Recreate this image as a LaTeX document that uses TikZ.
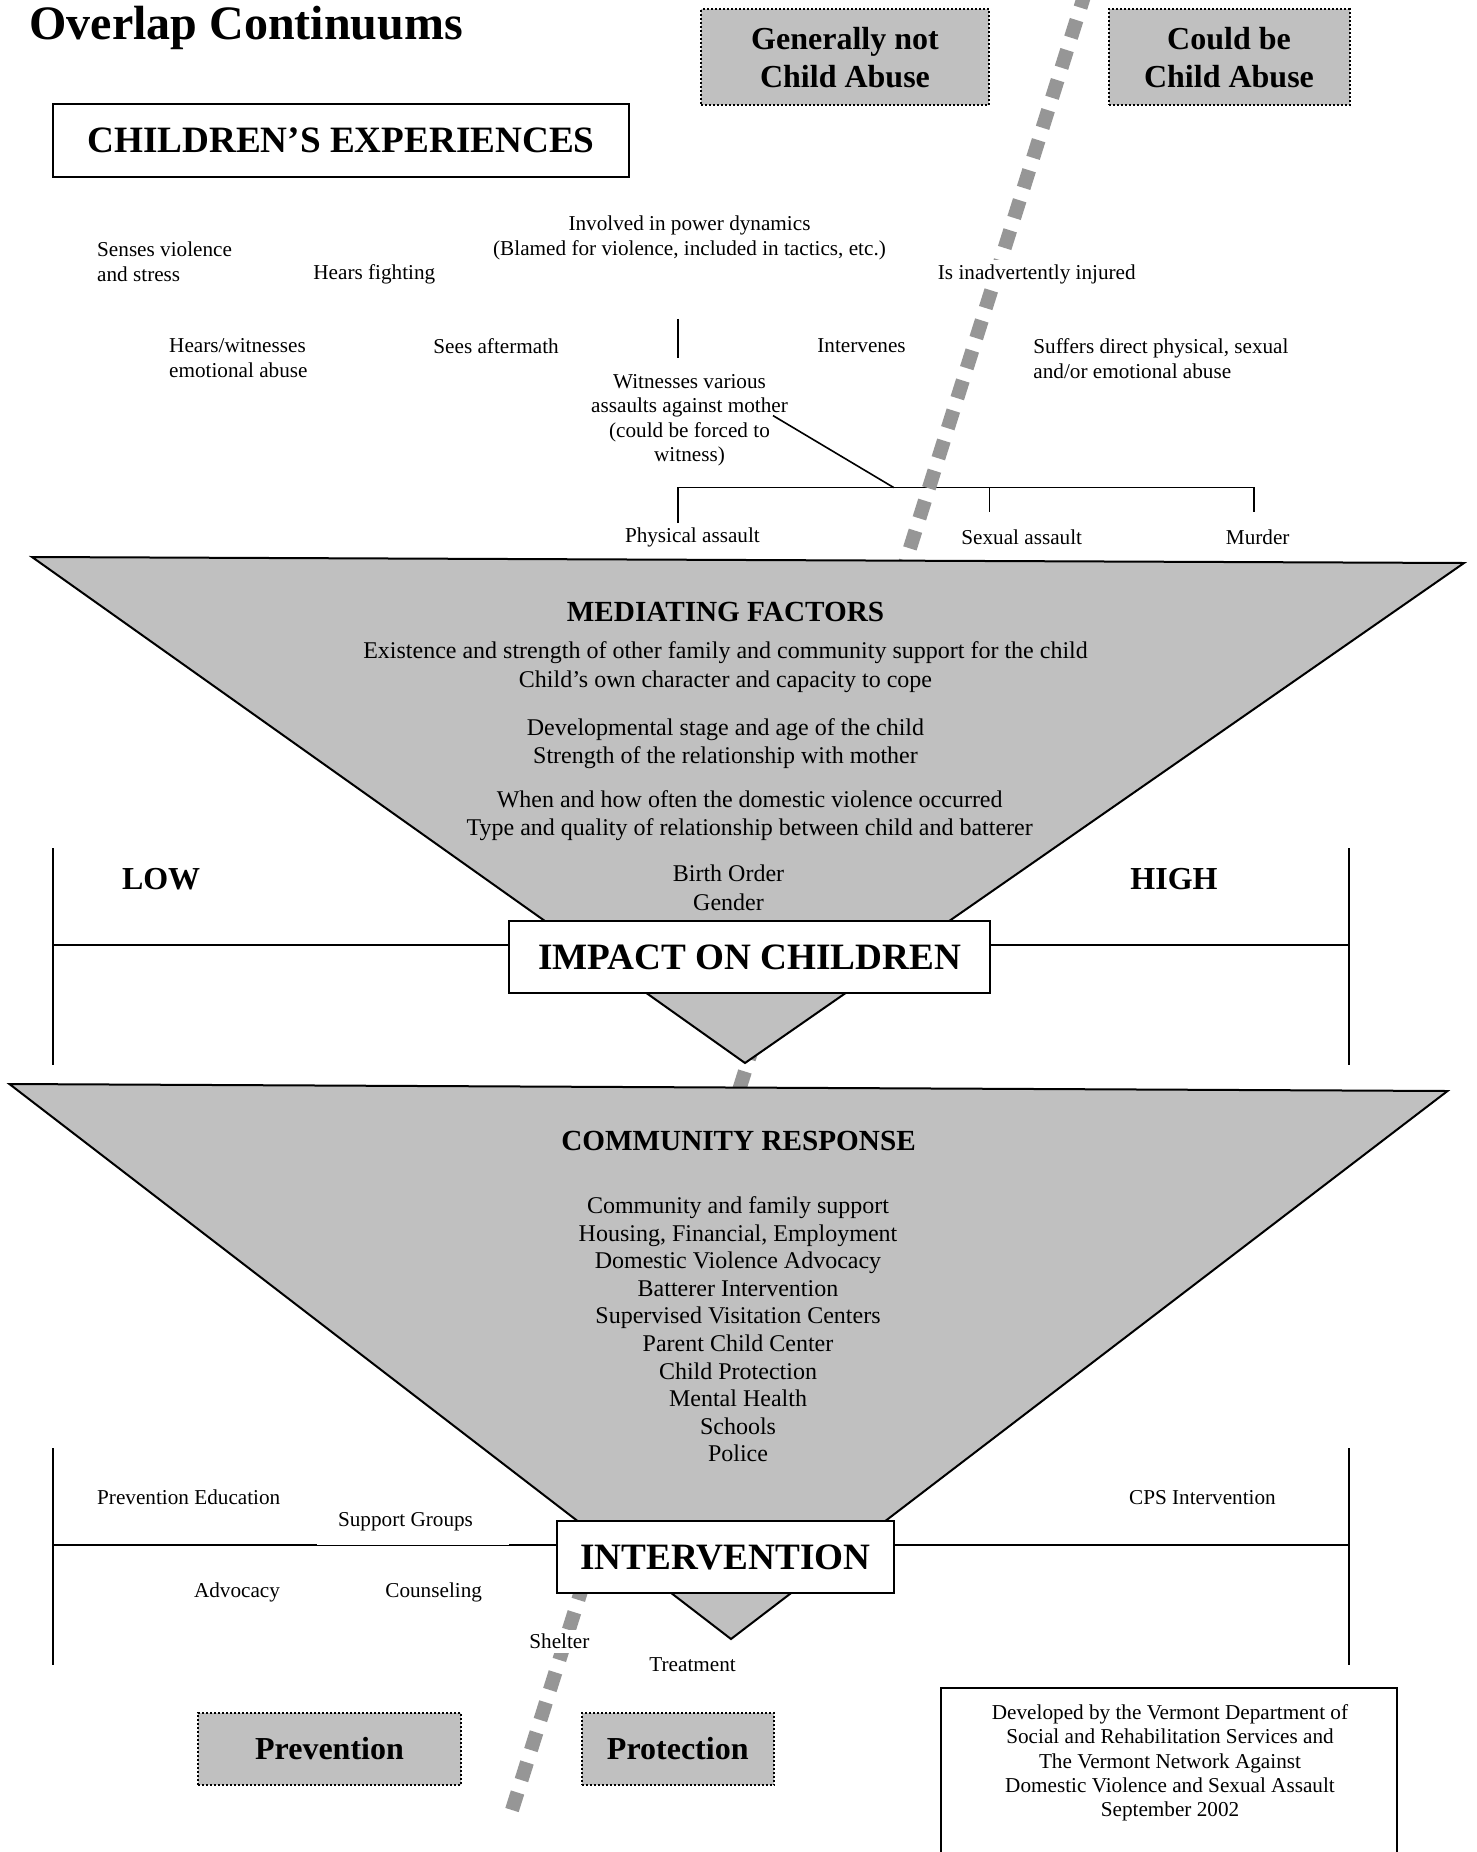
\documentclass[tikz,border=0pt]{standalone}
\usepackage{fontspec}
\setmainfont{Liberation Serif}
\definecolor{trigray}{RGB}{192,192,192}
\definecolor{dashgray}{RGB}{150,150,150}
\begin{document}
\begin{tikzpicture}[x=0.5pt,y=-0.5pt,
  txt/.style={inner sep=0pt, yshift=-1.2pt, font=\fontsize{10.6}{12.4}\selectfont, align=left},
  ctxt/.style={inner sep=0pt, yshift=-1.2pt, font=\fontsize{10.6}{12.3}\selectfont, align=center},
  mtxt/.style={inner sep=0pt, yshift=-1.2pt, font=\fontsize{12}{14.2}\selectfont, align=center},
  head/.style={inner sep=0pt, font=\bfseries\fontsize{14.6}{17}\selectfont},
  bigbox/.style={draw, line width=1pt, fill=white, font=\bfseries\fontsize{18.6}{22}\selectfont, minimum height=36pt},
  graybox/.style={draw, line width=1pt, dash pattern=on 1pt off 1pt, fill=trigray, font=\bfseries\fontsize{16}{19}\selectfont, align=center},
  scalebig/.style={font=\bfseries\fontsize{16}{19}\selectfont, inner sep=0pt},
  tri/.style={fill=trigray, draw, line width=1pt, line join=miter},
  ln/.style={line width=1pt},
  thinln/.style={line width=0.8pt},
  divider/.style={draw=dashgray, line width=7pt, dash pattern=on 9.25pt off 6.5pt},
  whitelbl/.style={fill=white, inner sep=2pt}
]
\useasboundingbox (0,0) rectangle (1477,1852);

% ---- experience connectors
\coordinate (vtop) at (677.7,318.8);
\coordinate (vbot) at (677.7,357.7);
\draw[thinln] (vtop) -- (vbot);
\coordinate (diagstart) at (773,415.6);
\coordinate (bJ) at (893.8,487.6);
\coordinate (bL) at (677.7,487.6);
\coordinate (bM) at (989.4,487.6);
\coordinate (bR) at (1253.9,487.6);
\coordinate (tL) at (677.7,523);
\coordinate (tM) at (989.4,512);
\coordinate (tR) at (1253.9,512);
\draw[thinln] (diagstart) -- (bJ);
\draw[thinln] (tL) -- (bL) -- (bR) -- (tR);
\draw[thinln] (bM) -- (tM);

% ---- dividing dashed line
\begin{scope}
\clip (0,0) rectangle (1477,1852);
\coordinate (dtop) at (1086,-10);
\coordinate (dbot) at (512,1810);
\draw[divider] (dtop) -- (dbot);
\end{scope}

% ---- triangles
\coordinate (t1a) at (32,557);
\coordinate (t1b) at (1464,563);
\coordinate (t1c) at (745,1063);
\draw[tri] (t1a) -- (t1b) -- (t1c) -- cycle;
\coordinate (t2a) at (9.4,1084);
\coordinate (t2b) at (1447.5,1091);
\coordinate (t2c) at (731,1639);
\draw[tri] (t2a) -- (t2b) -- (t2c) -- cycle;

% ---- title and top boxes
\node[anchor=west, inner sep=0pt, font=\bfseries\fontsize{24}{28}\selectfont] (title) at (29,28) {Overlap Continuums};
\node[graybox, minimum width=144pt, minimum height=47.8pt] (notabuse) at (845,57.2) {Generally not\\Child Abuse};
\node[graybox, minimum width=120.5pt, minimum height=47.8pt] (couldabuse) at (1229,57.2) {Could be\\Child Abuse};
\node[bigbox, minimum width=288pt, minimum height=36.5pt] (children) at (341,140.5) {CHILDREN’S EXPERIENCES};

% ---- experiences
\node[txt, anchor=west] (senses) at (96.8,259.5) {Senses violence\\and stress};
\node[txt, anchor=west] (fighting) at (313,271.6) {Hears fighting};
\node[ctxt, font=\fontsize{10.6}{12.5}\selectfont] (power) at (689.5,235.5) {Involved in power dynamics\\(Blamed for violence, included in tactics, etc.)};
\node[txt, anchor=west, whitelbl] (injured) at (933.5,271.6) {Is inadvertently injured};
\node[txt, anchor=west] (emotional) at (168.8,356) {Hears/witnesses\\emotional abuse};
\node[txt, anchor=west] (aftermath) at (433,343.6) {Sees aftermath};
\node[txt, anchor=west] (intervenes) at (817,343.6) {Intervenes};
\node[txt, anchor=west] (suffers) at (1033,356) {Suffers direct physical, sexual\\and/or emotional abuse};
\node[ctxt, font=\fontsize{10.6}{12.2}\selectfont] (witnesses) at (689.5,418) {Witnesses various\\assaults against mother\\(could be forced to\\witness)};
\node[txt, anchor=west] (physical) at (624.6,534.8) {Physical assault};
\node[txt, anchor=west] (sexual) at (961,534.8) {Sexual assault};
\node[txt, anchor=west] (murder) at (1225.5,534.8) {Murder};

% ---- mediating factors
\node[head] (mfhead) at (725.5,611.6) {MEDIATING FACTORS};
\node[mtxt] (mf1) at (725.5,664.8) {Existence and strength of other family and community support for the child\\Child’s own character and capacity to cope};
\node[mtxt] (mf2) at (725.5,741.5) {Developmental stage and age of the child\\Strength of the relationship with mother};
\node[mtxt] (mf3) at (749.7,813.5) {When and how often the domestic violence occurred\\Type and quality of relationship between child and batterer};
\node[mtxt] (mf4) at (728.5,885.3) {Birth Order\\Gender};

% ---- impact scale
\coordinate (lowtop) at (53,848);
\coordinate (lowbot) at (53,1065);
\coordinate (lowmid) at (53,945);
\coordinate (hightop) at (1349,848);
\coordinate (highbot) at (1349,1065);
\coordinate (highmid) at (1349,945);
\draw[ln] (lowtop) -- (lowbot);
\draw[ln] (hightop) -- (highbot);
\node[bigbox, minimum width=240.5pt] (impact) at (749.5,957) {IMPACT ON CHILDREN};
\draw[ln] (lowmid) -- (lowmid -| impact.west);
\draw[ln] (highmid) -- (highmid -| impact.east);
\node[scalebig, anchor=west] (low) at (121.6,879) {LOW};
\node[scalebig, anchor=west] (high) at (1130,879) {HIGH};

% ---- community response
\node[head] (crhead) at (738.5,1141) {COMMUNITY RESPONSE};
\node[mtxt, font=\fontsize{12}{13.8}\selectfont] (crlist) at (738,1327) {Community and family support\\Housing, Financial, Employment\\Domestic Violence Advocacy\\Batterer Intervention\\Supervised Visitation Centers\\Parent Child Center\\Child Protection\\Mental Health\\Schools\\Police};

% ---- intervention scale
\coordinate (iltop) at (53,1448);
\coordinate (ilbot) at (53,1665);
\coordinate (ilmid) at (53,1545);
\coordinate (ilgapa) at (317,1545);
\coordinate (ilgapb) at (509,1545);
\coordinate (irtop) at (1349,1448);
\coordinate (irbot) at (1349,1665);
\coordinate (irmid) at (1349,1545);
\draw[ln] (iltop) -- (ilbot);
\draw[ln] (irtop) -- (irbot);
\node[bigbox, minimum width=168.5pt] (interv) at (725.5,1557) {INTERVENTION};
\draw[ln] (ilmid) -- (ilgapa);
\draw[line width=0.5pt] (ilgapa) -- (ilgapb);
\draw[ln] (ilgapb) -- (ilgapb -| interv.west);
\draw[ln] (irmid) -- (irmid -| interv.east);

\node[txt, anchor=west] (preved) at (96.8,1494.7) {Prevention Education};
\node[txt, anchor=west] (support) at (337.7,1519.6) {Support Groups};
\node[txt, anchor=west] (cps) at (1128.7,1494.7) {CPS Intervention};
\node[txt, anchor=west] (advocacy) at (193.6,1590.4) {Advocacy};
\node[txt, anchor=west] (counseling) at (385,1590.4) {Counseling};
\node[txt, anchor=west, whitelbl] (shelter) at (525,1638.8) {Shelter};
\node[txt, anchor=west] (treatment) at (649,1662.4) {Treatment};

% ---- bottom boxes
\node[graybox, minimum width=131.5pt, minimum height=36pt] (prevention) at (329.5,1749) {Prevention};
\node[graybox, minimum width=96.25pt, minimum height=36pt] (protection) at (677.75,1749) {Protection};

\coordinate (cfbl) at (941,1870);
\coordinate (cftl) at (941,1688);
\coordinate (cftr) at (1397,1688);
\coordinate (cfbr) at (1397,1870);
\draw[ln] (cfbl) -- (cftl) -- (cftr) -- (cfbr);
\node[ctxt, font=\fontsize{10.6}{12.1}\selectfont] (credits) at (1170,1760.4) {Developed by the Vermont Department of\\Social and Rehabilitation Services and\\The Vermont Network Against\\Domestic Violence and Sexual Assault\\September 2002};
\end{tikzpicture}
\end{document}
